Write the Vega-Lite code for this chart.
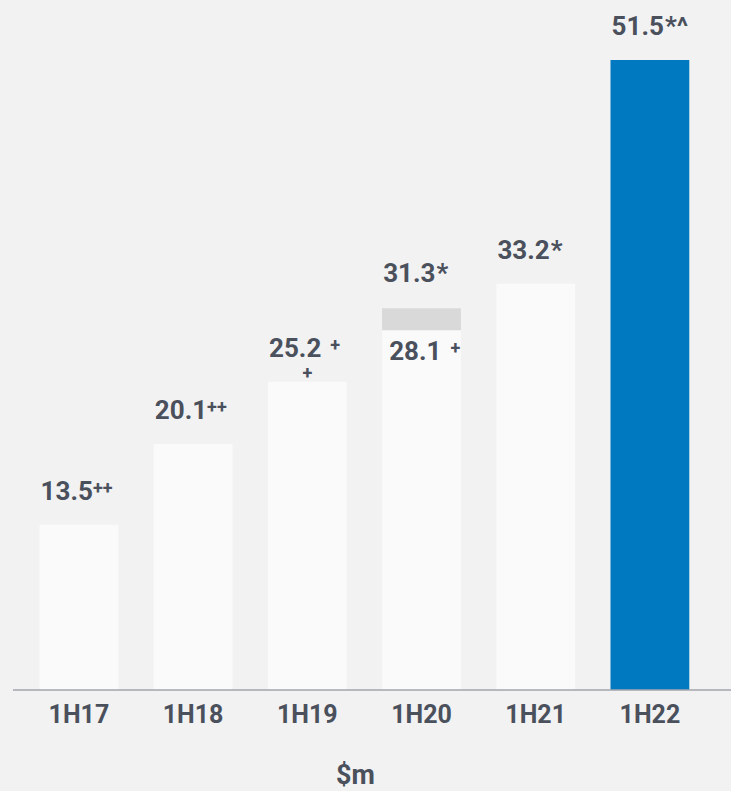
{
  "$schema": "https://vega.github.io/schema/vega-lite/v6.json",
  "width": 718,
  "height": 630,
  "autosize": "none",
  "padding": {"left": 13, "top": 60, "right": 0, "bottom": 101},
  "background": "#f2f2f2",
  "config": {"view": {"stroke": null}, "font": "Roboto"},
  "datasets": {
    "bars": [
      {"period": "1H17", "part": "base", "start": 0, "end": 13.5},
      {"period": "1H18", "part": "base", "start": 0, "end": 20.1},
      {"period": "1H19", "part": "base", "start": 0, "end": 25.2},
      {"period": "1H20", "part": "base", "start": 0, "end": 29.4},
      {"period": "1H20", "part": "extra", "start": 29.4, "end": 31.2},
      {"period": "1H21", "part": "base", "start": 0, "end": 33.2},
      {"period": "1H22", "part": "current", "start": 0, "end": 51.5}
    ],
    "labels": [
      {"period": "1H17", "kind": "top", "value": 13.5, "num": "13.5", "big": "", "sup": "++", "supGap": "", "sub": ""},
      {"period": "1H18", "kind": "top", "value": 20.1, "num": "20.1", "big": "", "sup": "++", "supGap": "", "sub": ""},
      {"period": "1H19", "kind": "top", "value": 25.2, "num": "25.2", "big": "", "sup": "", "supGap": "+", "sub": "+"},
      {"period": "1H20", "kind": "top", "value": 31.3, "num": "31.3", "big": "*", "sup": "", "supGap": "", "sub": ""},
      {"period": "1H20", "kind": "inner", "value": 28.1, "num": "28.1", "big": "", "sup": "", "supGap": "+", "sub": ""},
      {"period": "1H21", "kind": "top", "value": 33.2, "num": "33.2", "big": "*", "sup": "", "supGap": "", "sub": ""},
      {"period": "1H22", "kind": "top", "value": 51.5, "num": "51.5", "big": "*^", "sup": "", "supGap": "", "sub": ""}
    ]
  },
  "layer": [
    {
      "data": {"name": "bars"},
      "mark": {"type": "bar"},
      "encoding": {
        "x": {
          "field": "period",
          "type": "nominal",
          "sort": null,
          "title": "$m",
          "scale": {"range": [26.5, 676.3], "paddingInner": 0.31, "paddingOuter": 0},
          "axis": {
            "labelAngle": 0,
            "ticks": false,
            "tickSize": 0,
            "grid": false,
            "domain": false,
            "labelFont": "Roboto",
            "labelFontSize": 25,
            "labelFontWeight": "bold",
            "labelColor": "#4a505c",
            "labelPadding": 12,
            "titleFont": "Roboto",
            "titleFontSize": 27,
            "titleFontWeight": "bold",
            "titleColor": "#4a505c",
            "titlePadding": 35,
            "titleX": 342
          }
        },
        "y": {"field": "start", "type": "quantitative", "scale": {"domain": [0, 51.5], "nice": false}, "axis": null},
        "y2": {"field": "end"},
        "color": {"field": "part", "type": "nominal", "scale": {"domain": ["base", "extra", "current"], "range": ["#fafafa", "#d9d9d9", "#0079c1"]}, "legend": null}
      }
    },
    {
      "data": {"values": [{"base": 0}]},
      "mark": {"type": "rule", "color": "#a3a5ad", "strokeWidth": 1.5},
      "encoding": {"y": {"field": "base", "type": "quantitative"}}
    },
    {
      "data": {"name": "labels"},
      "transform": [{"filter": "datum.kind == 'top'"}],
      "mark": {"type": "text", "align": "right", "baseline": "alphabetic", "dx": 14, "dy": -25, "fontSize": 26, "fontWeight": "bold", "color": "#4a505c"},
      "encoding": {"x": {"field": "period", "type": "nominal", "sort": null}, "y": {"field": "value", "type": "quantitative"}, "text": {"field": "num"}}
    },
    {
      "data": {"name": "labels"},
      "transform": [{"filter": "datum.kind == 'top'"}],
      "mark": {"type": "text", "align": "left", "baseline": "alphabetic", "dx": 15, "dy": -25, "fontSize": 26, "fontWeight": "bold", "color": "#4a505c"},
      "encoding": {"x": {"field": "period", "type": "nominal", "sort": null}, "y": {"field": "value", "type": "quantitative"}, "text": {"field": "big"}}
    },
    {
      "data": {"name": "labels"},
      "transform": [{"filter": "datum.kind == 'top'"}],
      "mark": {"type": "text", "align": "left", "baseline": "alphabetic", "dx": 14, "dy": -31, "fontSize": 18, "fontWeight": "bold", "color": "#4a505c"},
      "encoding": {"x": {"field": "period", "type": "nominal", "sort": null}, "y": {"field": "value", "type": "quantitative"}, "text": {"field": "sup"}}
    },
    {
      "data": {"name": "labels"},
      "transform": [{"filter": "datum.kind == 'top'"}],
      "mark": {"type": "text", "align": "left", "baseline": "alphabetic", "dx": 23, "dy": -31, "fontSize": 18, "fontWeight": "bold", "color": "#4a505c"},
      "encoding": {"x": {"field": "period", "type": "nominal", "sort": null}, "y": {"field": "value", "type": "quantitative"}, "text": {"field": "supGap"}}
    },
    {
      "data": {"name": "labels"},
      "transform": [{"filter": "datum.kind == 'top'"}],
      "mark": {"type": "text", "align": "center", "baseline": "alphabetic", "dy": -3, "fontSize": 18, "fontWeight": "bold", "color": "#4a505c"},
      "encoding": {"x": {"field": "period", "type": "nominal", "sort": null}, "y": {"field": "value", "type": "quantitative"}, "text": {"field": "sub"}}
    },
    {
      "data": {"name": "labels"},
      "transform": [{"filter": "datum.kind == 'inner'"}],
      "mark": {"type": "text", "align": "right", "baseline": "alphabetic", "dx": 20, "dy": 14, "fontSize": 26, "fontWeight": "bold", "color": "#4a505c"},
      "encoding": {"x": {"field": "period", "type": "nominal", "sort": null}, "y": {"field": "value", "type": "quantitative"}, "text": {"field": "num"}}
    },
    {
      "data": {"name": "labels"},
      "transform": [{"filter": "datum.kind == 'inner'"}],
      "mark": {"type": "text", "align": "left", "baseline": "alphabetic", "dx": 29, "dy": 8, "fontSize": 18, "fontWeight": "bold", "color": "#4a505c"},
      "encoding": {"x": {"field": "period", "type": "nominal", "sort": null}, "y": {"field": "value", "type": "quantitative"}, "text": {"field": "supGap"}}
    }
  ]
}
